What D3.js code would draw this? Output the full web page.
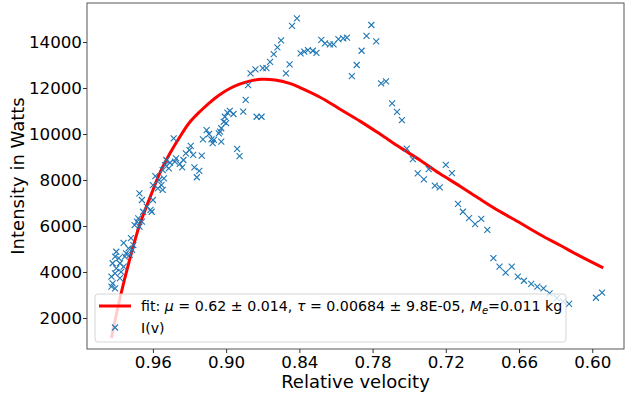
<!DOCTYPE html>
<html>
<head>
<meta charset="utf-8">
<script src="https://cdn.jsdelivr.net/npm/d3@7/dist/d3.min.js"></script>
<style>
  body { margin: 0; background: #fff; }
  text { font-family: "DejaVu Sans", sans-serif; fill: #000; }
</style>
</head>
<body>
<svg id="chart" width="625" height="403"></svg>
<script>
// measured points I(v)
const velocity = [
  0.994, 0.994, 0.993, 0.991, 0.993, 0.991, 0.990, 0.990, 0.991, 0.988,
  0.987, 0.987, 0.986, 0.984, 0.984, 0.983, 0.982, 0.980, 0.979, 0.977,
  0.978, 0.976, 0.975, 0.973, 0.971, 0.969, 0.972, 0.968, 0.965, 0.962,
  0.961, 0.971, 0.969, 0.960, 0.960, 0.958, 0.955, 0.953, 0.956, 0.952,
  0.952, 0.951, 0.949, 0.950, 0.947, 0.946, 0.943, 0.942, 0.941, 0.938,
  0.936, 0.935, 0.933, 0.930, 0.929, 0.927, 0.926, 0.922, 0.924, 0.920,
  0.919, 0.916, 0.914, 0.912, 0.910, 0.911, 0.906, 0.904, 0.905, 0.902,
  0.901, 0.899, 0.897, 0.894, 0.891, 0.889, 0.886, 0.884, 0.882, 0.880,
  0.876, 0.875, 0.871, 0.870, 0.867, 0.864, 0.861, 0.858, 0.855, 0.851,
  0.848, 0.846, 0.842, 0.839, 0.836, 0.833, 0.829, 0.826, 0.822, 0.819,
  0.815, 0.812, 0.808, 0.804, 0.801, 0.797, 0.793, 0.789, 0.785, 0.781,
  0.777, 0.773, 0.769, 0.764, 0.760, 0.756, 0.752, 0.747, 0.743, 0.738,
  0.734, 0.729, 0.725, 0.720, 0.715, 0.710, 0.706, 0.701, 0.696, 0.691,
  0.686, 0.681, 0.676, 0.671, 0.666, 0.661, 0.656, 0.650, 0.645, 0.640,
  0.635, 0.629, 0.624, 0.619, 0.597, 0.592, 0.904, 0.900
];
const intensity = [
  3800, 3360, 3510, 3290, 4380, 3940, 4160, 4880, 4670, 4600,
  4380, 3730, 4010, 4230, 5270, 4670, 4810, 5030, 4740, 4960,
  5470, 5170, 6040, 6190, 5970, 6190, 6330, 6620, 6840, 6700,
  6620, 7420, 7130, 7130, 7780, 8170, 8000, 7780, 7640, 7570,
  8430, 8070, 8870, 8650, 8510, 8750, 9810, 8800, 8940, 8700,
  8550, 8870, 9160, 9300, 9480, 9090, 8550, 8400, 8120, 9060,
  9770, 10170, 10000, 9770, 9740, 9600, 10030, 9670, 10100, 10530,
  10750, 10930, 11010, 10870, 9350, 9040, 10970, 11480, 12130, 12640,
  12810, 10750, 10750, 12860, 12860, 13140, 13470, 13770, 14070, 12640,
  13030, 14700, 15030, 13510, 13580, 13650, 13620, 13530, 14090, 13940,
  13900, 13900, 14130, 14160, 14190, 12520, 13000, 13620, 14270, 14740,
  14030, 12200, 12290, 11330, 10960, 10600, 9360, 8910, 8290, 8030,
  8470, 7760, 7680, 8660, 8300, 6960, 6620, 6340, 6080, 6310,
  5830, 4600, 4230, 3970, 4230, 3800, 3620, 3480, 3360, 3290,
  3070, 2860, 2710, 2610, 2880, 3100, 10250, 10470
];

// fitted curve
const fitVelocity = [
  0.994, 0.987, 0.979, 0.971, 0.962, 0.954, 0.946, 0.938, 0.930, 0.921,
  0.913, 0.905, 0.897, 0.889, 0.880, 0.871, 0.860, 0.848, 0.840, 0.823,
  0.807, 0.790, 0.774, 0.758, 0.741, 0.725, 0.708, 0.692, 0.676, 0.659,
  0.643, 0.626, 0.610, 0.591
];
const fitIntensity = [
  1130, 2860, 4550, 6030, 7290, 8340, 9160, 9870, 10500, 11000,
  11390, 11720, 11980, 12170, 12310, 12380, 12350, 12200, 12030, 11600,
  11090, 10550, 10000, 9430, 8860, 8280, 7720, 7170, 6640, 6130,
  5630, 5150, 4690, 4180
];

const xTicks = [0.96, 0.90, 0.84, 0.78, 0.72, 0.66, 0.60];
const yTicks = [2000, 4000, 6000, 8000, 10000, 12000, 14000];

var svg = d3.select("#chart");
var plot = {left: 87, right: 624, top: 3, bottom: 349};

var x = d3.scaleLinear().domain([1.014, 0.574]).range([plot.left, plot.right]);
var y = d3.scaleLinear().domain([652, 15696]).range([plot.bottom, plot.top]);

svg.append("clipPath").attr("id", "clip")
  .append("rect")
  .attr("x", plot.left).attr("y", plot.top)
  .attr("width", plot.right - plot.left).attr("height", plot.bottom - plot.top);

// fit line first, scatter on top (same order as the legend)
var fitData = fitVelocity.map(function(v, i) { return [v, fitIntensity[i]]; });
var line = d3.line()
  .x(function(d) { return x(d[0]); })
  .y(function(d) { return y(d[1]); })
  .curve(d3.curveCatmullRom.alpha(0.5));

var g = svg.append("g").attr("clip-path", "url(#clip)");
g.append("path")
  .datum(fitData)
  .attr("d", line)
  .attr("fill", "none")
  .attr("stroke", "#ff0000")
  .attr("stroke-width", 3);

var cross = "M-3,-3L3,3M-3,3L3,-3";
g.selectAll("path.pt")
  .data(velocity)
  .enter().append("path")
  .attr("class", "pt")
  .attr("d", cross)
  .attr("transform", function(d, i) { return "translate(" + x(d) + "," + y(intensity[i]) + ")"; })
  .attr("stroke", "#1f77b4")
  .attr("stroke-width", 1.1)
  .attr("fill", "none");

// frame
svg.append("rect")
  .attr("x", plot.left).attr("y", plot.top)
  .attr("width", plot.right - plot.left).attr("height", plot.bottom - plot.top)
  .attr("fill", "none")
  .attr("stroke", "#555")
  .attr("stroke-width", 1);

// axes
var xAxis = d3.axisBottom(x).tickValues(xTicks).tickFormat(d3.format(".2f")).tickSize(4).tickPadding(3);
var yAxis = d3.axisLeft(y).tickValues(yTicks).tickFormat(d3.format("d")).tickSize(4).tickPadding(1);

var gx = svg.append("g").attr("transform", "translate(0," + plot.bottom + ")").call(xAxis);
gx.select(".domain").remove();
gx.selectAll("text").style("font-size", "16.7px").attr("font-family", null).attr("dy", "0.72em");
gx.selectAll("line").attr("stroke", "#333");

var gy = svg.append("g").attr("transform", "translate(" + plot.left + ",0)").call(yAxis);
gy.select(".domain").remove();
gy.selectAll("text").style("font-size", "16.7px").attr("font-family", null);
gy.selectAll("line").attr("stroke", "#333");

svg.append("text")
  .attr("x", (plot.left + plot.right) / 2)
  .attr("y", 388)
  .attr("text-anchor", "middle")
  .style("font-size", "18px")
  .text("Relative velocity");

svg.append("text")
  .attr("transform", "translate(24," + ((plot.top + plot.bottom) / 2) + ") rotate(-90)")
  .attr("text-anchor", "middle")
  .style("font-size", "18px")
  .text("Intensity in Watts");

// legend
var lg = svg.append("g");
lg.append("rect")
  .attr("x", 95).attr("y", 294)
  .attr("width", 471).attr("height", 48)
  .attr("rx", 3)
  .attr("fill", "#fff").attr("fill-opacity", 0.8)
  .attr("stroke", "#ccc").attr("stroke-opacity", 0.8);

lg.append("line")
  .attr("x1", 99).attr("x2", 131).attr("y1", 306).attr("y2", 306)
  .attr("stroke", "#ff0000").attr("stroke-width", 3);

var t = lg.append("text").attr("x", 141).attr("y", 311).style("font-size", "14.2px");
t.append("tspan").text("fit: ");
t.append("tspan").style("font-style", "italic").text("μ");
t.append("tspan").text(" = 0.62 ± 0.014, ");
t.append("tspan").style("font-style", "italic").text("τ");
t.append("tspan").text(" = 0.00684 ± 9.8E-05, ");
t.append("tspan").style("font-style", "italic").text("M");
t.append("tspan").style("font-style", "italic").style("font-size", "10px").attr("dy", 3).text("e");
t.append("tspan").attr("dy", -3).text("=0.011 kg");

lg.append("path")
  .attr("d", cross)
  .attr("transform", "translate(115,327.5)")
  .attr("stroke", "#1f77b4").attr("stroke-width", 1.1).attr("fill", "none");

lg.append("text").attr("x", 141).attr("y", 333).style("font-size", "14.2px").text("I(v)");
</script>
</body>
</html>
